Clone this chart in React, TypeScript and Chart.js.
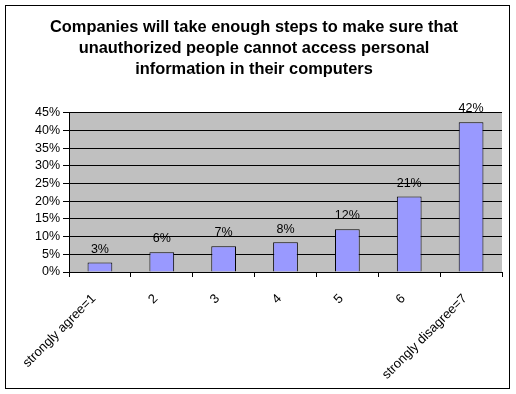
import React, { useEffect, useRef } from "react";
import { Chart, registerables } from "chart.js";

Chart.register(...registerables);

const categories = ["strongly agree=1", "2", "3", "4", "5", "6", "strongly disagree=7"];
const values = [2.7, 5.6, 7.3, 8.4, 12.1, 21.4, 42.4];
const titleLines = [
  "Companies will take enough steps to make sure that",
  "unauthorized people cannot access personal",
  "information in their computers",
];

const FONT = "'Liberation Sans', Arial, sans-serif";

const plotBg = {
  id: "plotBg",
  beforeDraw(chart: any) {
    const { ctx, chartArea } = chart;
    ctx.save();
    ctx.fillStyle = "#ffffff";
    ctx.fillRect(0, 0, chart.width, chart.height);
    ctx.fillStyle = "#C0C0C0";
    ctx.fillRect(chartArea.left, chartArea.top, chartArea.right - chartArea.left, chartArea.bottom - chartArea.top);
    ctx.restore();
  },
  afterDraw(chart: any) {
    const { ctx } = chart;
    ctx.save();
    ctx.strokeStyle = "#000";
    ctx.lineWidth = 1;
    ctx.strokeRect(5.5, 5.5, 504, 383);
    ctx.restore();
  },
};

const dataLabels = {
  id: "dataLabels",
  afterDatasetsDraw(chart: any) {
    const { ctx } = chart;
    const meta = chart.getDatasetMeta(0);
    ctx.save();
    ctx.fillStyle = "#000";
    ctx.font = `12.5px ${FONT}`;
    ctx.textAlign = "center";
    ctx.textBaseline = "bottom";
    meta.data.forEach((bar: any, i: number) => {
      const v = chart.data.datasets[0].data[i];
      ctx.fillText(Math.round(v) + "%", bar.x, bar.y - 7);
    });
    ctx.restore();
  },
};

export default function App() {
  const ref = useRef<HTMLCanvasElement>(null);
  useEffect(() => {
    document.body.style.margin = "0";
    const chart = new Chart(ref.current!, {
      type: "bar",
      data: {
        labels: categories,
        datasets: [
          {
            data: values,
            backgroundColor: "#9999FF",
            borderColor: "#000000",
            borderWidth: 1,
            barPercentage: 0.4,
            categoryPercentage: 1,
          },
        ],
      },
      options: {
        animation: false,
        responsive: false,
        devicePixelRatio: 1,
        layout: { padding: { left: 6, right: 14, top: 6, bottom: 6 } },
        plugins: {
          legend: { display: false },
          tooltip: { enabled: false },
          title: {
            display: true,
            text: titleLines,
            color: "#000",
            font: { family: FONT, size: 16.4, weight: "bold", lineHeight: 1.28 },
            padding: { top: 11, bottom: 33 },
          },
        },
        scales: {
          x: {
            grid: {
              display: true,
              drawOnChartArea: false,
              offset: true,
              color: "#000",
              tickLength: 5,
              tickColor: "#000",
            },
            border: { color: "#000", width: 1 },
            ticks: {
              color: "#000",
              font: { family: FONT, size: 13 },
              minRotation: 45,
              maxRotation: 45,
              padding: 14,
              labelOffset: -6,
              autoSkip: false,
            },
            afterFit(scale: any) {
              scale.height = 116;
            },
          },
          y: {
            min: 0,
            max: 45,
            grid: { color: "#000", tickLength: 6, tickColor: "#000" },
            border: { color: "#000", width: 1 },
            ticks: {
              stepSize: 5,
              autoSkip: false,
              color: "#000",
              font: { family: FONT, size: 12.5 },
              padding: 3,
              callback: (v: any) => v + "%",
            },
            afterFit(scale: any) {
              scale.width = 63;
            },
          },
        },
      },
      plugins: [plotBg, dataLabels],
    });
    return () => chart.destroy();
  }, []);
  return <canvas ref={ref} width={516} height={394} />;
}
